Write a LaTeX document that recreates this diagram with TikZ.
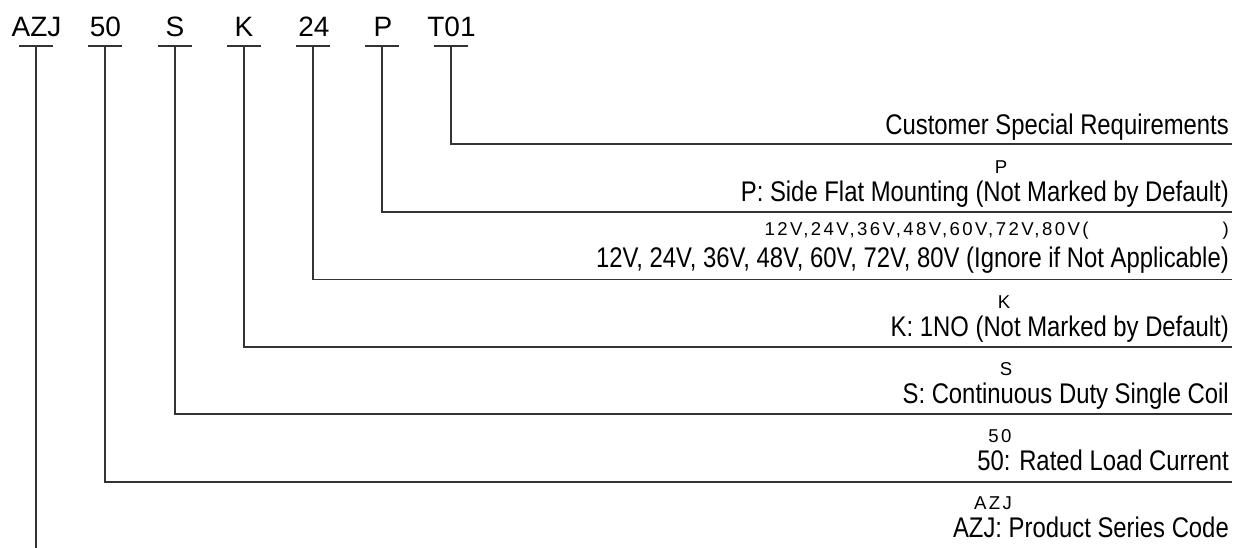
\documentclass[tikz,border=0pt]{standalone}
\usepackage{fontspec}
\setmainfont{Liberation Sans}
\newfontfamily\lblfont[FakeStretch=0.84]{Liberation Sans}
\newfontfamily\smlfont[LetterSpace=13.0]{Liberation Sans}
\begin{document}
\begin{tikzpicture}[x=1pt,y=-1pt,
  codetext/.style={inner sep=0pt,anchor=base,font=\fontsize{28}{30}\selectfont},
  mainlabel/.style={inner sep=0pt,anchor=base east,font=\lblfont\fontsize{28.4}{30}\selectfont},
  smalllabel/.style={inner sep=0pt,anchor=base,font=\smlfont\fontsize{18.6}{20}\selectfont},
  leader/.style={line width=1.2pt,draw=black!80}]
\useasboundingbox (0,0) rectangle (1242,548);
% code letters
\node[codetext] (c1) at (36.5,37) {AZJ};
\node[codetext] (c2) at (105.5,37) {50};
\node[codetext] (c3) at (175,37) {S};
\node[codetext] (c4) at (244,37) {K};
\node[codetext] (c5) at (314,37) {24};
\node[codetext] (c6) at (383,37) {P};
\node[codetext] (c7) at (451.5,37) {T01};
% underline and leader coordinates
\foreach \n/\x in {1/36,2/105,3/175,4/244,5/313,6/382,7/451}{
  \coordinate (u\n l) at (\x-17,46);
  \coordinate (u\n r) at (\x+17,46);
  \coordinate (t\n) at (\x,46);
  \draw[leader] (u\n l) -- (u\n r);
}
\coordinate (b1) at (36,548);
\foreach \n/\x/\y in {2/105/482,3/175/414,4/244/347,5/313/279.5,6/382/212,7/451/144}{
  \coordinate (b\n) at (\x,\y);
  \coordinate (e\n) at (1232,\y);
}
\draw[leader] (t1) -- (b1);
\foreach \n in {2,...,7}{
  \draw[leader] (t\n) -- (b\n) -- (e\n);
}
% labels
\node[mainlabel] (m7) at (1229,135) {Customer Special Requirements};
\node[smalllabel] (s6) at (1001,173.5) {P};
\node[mainlabel] (m6) at (1229,202) {P: Side Flat Mounting (Not Marked by Default)};
\node[smalllabel,anchor=base east] (s5) at (1229,235.5) {12V,24V,36V,48V,60V,72V,80V(\hspace{134pt})};
\node[mainlabel] (m5) at (1229,267) {12V, 24V, 36V, 48V, 60V, 72V, 80V (Ignore if Not Applicable)};
\node[smalllabel] (s4) at (1004,308) {K};
\node[mainlabel] (m4) at (1229,336) {K: 1NO (Not Marked by Default)};
\node[smalllabel] (s3) at (1006,375) {S};
\node[mainlabel] (m3) at (1229,403) {S: Continuous Duty Single Coil};
\node[smalllabel] (s2) at (1000,442) {50};
\node[mainlabel] (m2) at (1229,470) {50: Rated Load Current};
\node[smalllabel] (s1) at (993,509) {AZJ};
\node[mainlabel] (m1) at (1229,537.5) {AZJ: Product Series Code};
\end{tikzpicture}
\end{document}
